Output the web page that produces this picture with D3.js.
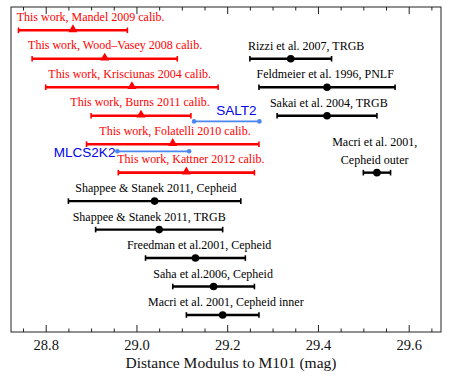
<!DOCTYPE html>
<html>
<head>
<meta charset="utf-8">
<script src="https://cdn.jsdelivr.net/npm/d3@7"></script>
<style>
  body { margin: 0; background: #fff; }
  svg { display: block; }
  .serif { font-family: "Liberation Serif", "Times New Roman", serif; }
</style>
</head>
<body>
<svg id="chart" width="452" height="375"></svg>
<script>
// --- data (distance modulus, mag) ---
const workLabels = [
  "This work, Mandel 2009 calib.",
  "This work, Wood\u2013Vasey 2008 calib.",
  "This work, Krisciunas 2004 calib.",
  "This work, Burns 2011 calib.",
  "This work, Folatelli 2010 calib.",
  "This work, Kattner 2012 calib."
];
const workMu = [28.86, 28.93, 28.99, 29.01, 29.08, 29.11];
const workErr = [0.12, 0.16, 0.19, 0.11, 0.19, 0.15];
const workRow = [0, 1, 2, 3, 4, 5];
const workLabelAt = [28.899, 28.953, 28.985, 29.008, 29.085, 29.12];

const litLabels = [
  ["Rizzi et al. 2007, TRGB"],
  ["Feldmeier et al. 1996, PNLF"],
  ["Sakai et al. 2004, TRGB"],
  ["Macri et al. 2001,", "Cepheid outer"],
  ["Shappee & Stanek 2011, Cepheid"],
  ["Shappee & Stanek 2011, TRGB"],
  ["Freedman et al.2001, Cepheid"],
  ["Saha et al.2006, Cepheid"],
  ["Macri et al. 2001, Cepheid inner"]
];
const litMu = [29.34, 29.42, 29.42, 29.53, 29.04, 29.05, 29.13, 29.17, 29.19];
const litErr = [0.09, 0.15, 0.11, 0.03, 0.19, 0.14, 0.11, 0.09, 0.08];
const litRow = [1, 2, 3, 5, 6, 7, 8, 9, 10];
const litLabelAt = [29.374, 29.416, 29.424, 29.525, 29.043, 29.028, 29.138, 29.169, 29.197];

const fitLabels = ["SALT2", "MLCS2K2"];
const fitLo = [29.127, 28.958];
const fitHi = [29.271, 29.116];
const fitRow = [3.2, 4.25];

const xDomain = [28.7235, 29.6712];
const majorTicks = [28.8, 29.0, 29.2, 29.4, 29.6];
const minorTicks = [28.75, 28.85, 28.9, 28.95, 29.05, 29.1, 29.15, 29.25, 29.3, 29.35, 29.45, 29.5, 29.55, 29.65];

// --- layout ---
const margin = { top: 7, right: 11, bottom: 43, left: 11 };
const W = 452, H = 375;
const width = W - margin.left - margin.right;
const height = H - margin.top - margin.bottom;

const svg = d3.select("#chart");
const g = svg.append("g").attr("transform", `translate(${margin.left},${margin.top})`);

const x = d3.scaleLinear().domain(xDomain).range([0, width]);
const y = d3.scaleLinear().domain([0, 10]).range([23.3, 308]);

const red = "#ff0000";
const capH = 2.8;

// frame
g.append("rect")
  .attr("width", width).attr("height", height)
  .attr("fill", "none").attr("stroke", "#222").attr("stroke-width", 1);

// bottom axis (ticks pointing in)
const bottomAxis = g.append("g").attr("transform", `translate(0,${height})`)
  .call(d3.axisBottom(x).tickValues(majorTicks).tickFormat(d3.format(".1f"))
    .tickSizeInner(-7).tickSizeOuter(0).tickPadding(8));
bottomAxis.select(".domain").remove();
bottomAxis.selectAll("text").attr("class", "serif").style("font-size", "14.5px").attr("fill", "#111");
g.append("g").attr("transform", `translate(0,${height})`)
  .call(d3.axisBottom(x).tickValues(minorTicks).tickFormat("").tickSizeInner(-3.5).tickSizeOuter(0))
  .select(".domain").remove();

// top axis
const topAxis = g.append("g")
  .call(d3.axisTop(x).tickValues(majorTicks).tickFormat("").tickSizeInner(-7).tickSizeOuter(0));
topAxis.select(".domain").remove();
g.append("g")
  .call(d3.axisTop(x).tickValues(minorTicks).tickFormat("").tickSizeInner(-3.5).tickSizeOuter(0))
  .select(".domain").remove();
g.selectAll(".tick line").attr("stroke", "#222");

// axis title
svg.append("text").attr("class", "serif")
  .attr("x", 231).attr("y", 368)
  .attr("text-anchor", "middle").style("font-size", "15.5px").attr("fill", "#111")
  .text("Distance Modulus to M101 (mag)");

function errorBar(sel, mu, err, row, color, sw) {
  const yy = y(row);
  sel.append("line")
    .attr("x1", x(mu - err)).attr("x2", x(mu + err))
    .attr("y1", yy).attr("y2", yy)
    .attr("stroke", color).attr("stroke-width", sw);
  [mu - err, mu + err].forEach(v => {
    sel.append("line")
      .attr("x1", x(v)).attr("x2", x(v))
      .attr("y1", yy - capH).attr("y2", yy + capH)
      .attr("stroke", color).attr("stroke-width", 1.6);
  });
}

// this work (red triangles)
workMu.forEach((mu, i) => {
  errorBar(g, mu, workErr[i], workRow[i], red, 2.6);
  g.append("path")
    .attr("d", d3.symbol(d3.symbolTriangle, 36))
    .attr("transform", `translate(${x(mu)},${y(workRow[i]) - 0.8})`)
    .attr("fill", red);
  g.append("text").attr("class", "serif")
    .attr("x", x(workLabelAt[i])).attr("y", y(workRow[i]) - 9.5)
    .attr("text-anchor", "middle").style("font-size", "12px")
    .attr("fill", red).text(workLabels[i]);
});

// literature (black circles)
litMu.forEach((mu, i) => {
  errorBar(g, mu, litErr[i], litRow[i], "#000", 2.4);
  g.append("circle")
    .attr("cx", x(mu)).attr("cy", y(litRow[i])).attr("r", 3.8)
    .attr("fill", "#000");
  const lines = litLabels[i];
  lines.forEach((t, k) => {
    g.append("text").attr("class", "serif")
      .attr("x", x(litLabelAt[i])).attr("y", y(litRow[i]) - 9 - (lines.length - 1 - k) * 17.3)
      .attr("text-anchor", "middle").style("font-size", "12px")
      .attr("fill", "#000").text(t);
  });
});

// fitter ranges (blue)
fitLo.forEach((lo, i) => {
  const yy = y(fitRow[i]);
  g.append("line")
    .attr("x1", x(lo)).attr("x2", x(fitHi[i]))
    .attr("y1", yy).attr("y2", yy)
    .attr("stroke", "#4a86f0").attr("stroke-width", 1.8);
  [lo, fitHi[i]].forEach(v => {
    g.append("circle").attr("cx", x(v)).attr("cy", yy).attr("r", 2.3).attr("fill", "#4a86f0");
  });
});
g.append("text")
  .attr("x", x(29.22)).attr("y", y(fitRow[0]) - 6.5)
  .attr("text-anchor", "middle")
  .style("font-family", "'Liberation Sans', Arial, sans-serif").style("font-size", "13.5px")
  .attr("fill", "#0000ee").text(fitLabels[0]);
g.append("text")
  .attr("x", x(fitLo[1]) - 2).attr("y", y(fitRow[1]) + 6)
  .attr("text-anchor", "end")
  .style("font-family", "'Liberation Sans', Arial, sans-serif").style("font-size", "13.5px")
  .attr("fill", "#0000ee").text(fitLabels[1]);
</script>
</body>
</html>
